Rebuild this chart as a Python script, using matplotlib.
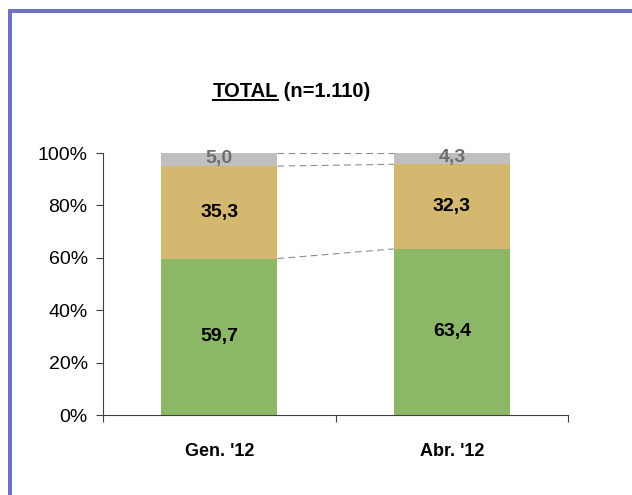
import matplotlib
matplotlib.use("Agg")
import matplotlib.pyplot as plt
from matplotlib.patches import Rectangle
import numpy as np

plt.rcParams['font.family'] = ['Liberation Sans', 'DejaVu Sans']

# donnees
categories = ["Gen. '12", "Abr. '12"]
verde = [59.7, 63.4]
beige = [35.3, 32.3]
grigio = [5.0, 4.3]
etichette_y = ['0%', '20%', '40%', '60%', '80%', '100%']

c_verde = '#8BB766'
c_beige = '#D4B870'
c_grigio = '#BFBFBF'

fig = plt.figure(figsize=(6.32, 4.95), dpi=100)
ax = fig.add_axes([0.163, 0.1616, 0.736, 0.5293])

x = np.arange(len(categories))
w = 0.5
ax.bar(x, verde, w, color=c_verde)
ax.bar(x, beige, w, bottom=verde, color=c_beige)
bot2 = np.array(verde) + np.array(beige)
ax.bar(x, grigio, w, bottom=bot2, color=c_grigio)

# etichette
for i in range(len(categories)):
    ax.text(x[i], verde[i] / 2, f"{verde[i]:.1f}".replace('.', ','), ha='center', va='center',
            fontsize=14, fontweight='bold', color='black')
    ax.text(x[i], verde[i] + beige[i] / 2, f"{beige[i]:.1f}".replace('.', ','), ha='center', va='center',
            fontsize=14, fontweight='bold', color='black')
    ax.text(x[i], bot2[i] + grigio[i] / 2 + 0.3, f"{grigio[i]:.1f}".replace('.', ','), ha='center',
            va='center', fontsize=14, fontweight='bold', color='#6E6E6E')

# linee tratteggiate tra le barre
tops = [verde, list(bot2), list(bot2 + np.array(grigio))]
for t in tops:
    ax.plot([x[0] + w / 2, x[1] - w / 2], [t[0], t[1]], color='#8C8C8C', lw=0.8,
            dashes=(6, 4))

ax.set_xlim(-0.5, 1.5)
ax.set_ylim(0, 100)
ax.set_yticks(np.arange(0, 101, 20))
ax.set_yticklabels(etichette_y, fontsize=14)
ax.set_xticks(x)
ax.set_xticklabels(categories, fontsize=13, fontweight='bold')
ax.set_xticks([-0.5, 0.5, 1.5], minor=True)
ax.tick_params(axis='x', which='major', length=0, pad=20)
ax.tick_params(axis='x', which='minor', length=5, width=0.8, color='#404040')
ax.tick_params(axis='y', length=5, width=0.8, color='#404040', pad=6)
for s in ['top', 'right']:
    ax.spines[s].set_visible(False)
for s in ['left', 'bottom']:
    ax.spines[s].set_linewidth(0.8)
    ax.spines[s].set_color('#404040')

# titolo con sottolineatura
t1 = fig.text(0.337, 1 - 97 / 495, 'TOTAL', fontsize=14.5, fontweight='bold', ha='left', va='baseline')
fig.canvas.draw()
r = fig.canvas.get_renderer()
bb = t1.get_window_extent(r)
fig.text(bb.x1 / fig.bbox.width, 1 - 97 / 495, ' (n=1.110)', fontsize=14.5, fontweight='bold',
         ha='left', va='baseline')
yu = 1 - 100 / 495
fig.add_artist(plt.Line2D([bb.x0 / fig.bbox.width, bb.x1 / fig.bbox.width], [yu, yu],
                          transform=fig.transFigure, color='black', lw=1.4))

# cornice
bordo = '#7272C2'
fig.add_artist(Rectangle((8 / 632, 0), 4 / 632, 1 - 9 / 495, transform=fig.transFigure,
                         color=bordo, lw=0))
fig.add_artist(Rectangle((8 / 632, 1 - 13 / 495), 1, 4 / 495, transform=fig.transFigure,
                         color=bordo, lw=0))

fig.savefig('out.png', dpi=100)
